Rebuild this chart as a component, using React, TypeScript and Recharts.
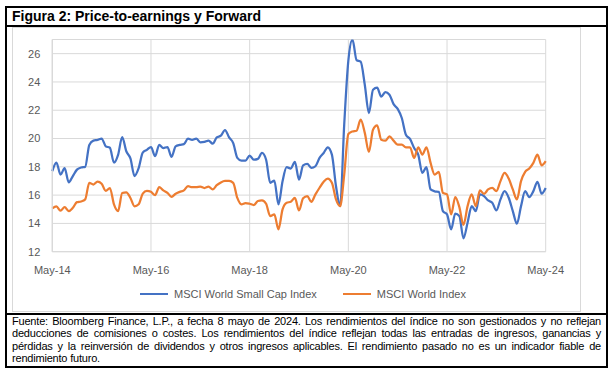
import { LineChart, Line, XAxis, YAxis, CartesianGrid, Legend } from "recharts";

// monthly points, May-14 .. May-24
const smallCap = [
  17.7, 18.3, 17.45, 17.9, 16.9, 17.35, 17.8, 17.95, 18.0, 19.55, 19.85, 19.9,
  20.0, 19.45, 19.35, 18.3, 18.85, 20.1, 19.1, 18.6, 17.35, 17.9, 19.0, 19.2,
  19.4, 18.75, 19.55, 19.33, 19.4, 18.7, 19.45, 19.55, 19.6, 19.99, 19.9, 20.0,
  19.73, 19.76, 19.85, 19.64, 20.08, 20.2, 20.6, 20.08, 19.68, 18.63, 18.44, 18.44,
  18.8, 18.5, 18.56, 18.98, 18.5, 16.87, 17.03, 15.34, 16.98, 17.97, 17.88, 18.35,
  17.1, 18.1, 18.2, 17.92, 18.04, 18.63, 18.98, 19.38, 18.86, 16.63, 15.22, 21.0,
  25.5, 27.0, 25.55, 25.43, 23.8, 21.8, 23.45, 23.6, 22.97, 23.28, 23.1, 22.43,
  22.1, 21.45, 20.27, 19.97, 19.33, 18.86, 17.57, 17.97, 16.4, 16.27, 16.23, 14.87,
  14.64, 13.58, 14.69, 14.52, 12.95, 14.05, 15.22, 14.87, 16.05, 15.93, 15.62, 15.46,
  14.92, 15.7, 16.28, 15.81, 14.87, 13.98, 15.22, 16.28, 15.86, 16.28, 16.94, 16.1,
  16.5,
];

const world = [
  15.06, 15.2, 14.9, 15.15, 14.87, 15.1, 15.5, 15.55, 15.7, 16.87, 16.75, 16.95,
  16.8, 16.3, 16.5, 15.35, 14.87, 16.15, 16.2, 15.8, 15.2, 15.35, 16.1, 16.3,
  16.23, 16.0, 16.56, 16.33, 16.16, 15.88, 16.1, 16.23, 16.33, 16.63, 16.56, 16.56,
  16.6, 16.5, 16.6, 16.4, 16.7, 16.9, 17.0, 17.0, 16.87, 15.8, 15.35, 15.44,
  15.39, 15.3, 15.58, 15.63, 15.39, 14.52, 14.64, 13.58, 14.99, 15.46, 15.53, 15.8,
  14.92, 15.77, 15.93, 15.53, 16.05, 16.52, 16.94, 17.17, 16.87, 15.7, 15.22, 17.45,
  20.32, 20.5, 20.55, 21.33, 20.4, 19.05, 20.62, 20.93, 19.92, 19.85, 20.15, 19.85,
  19.57, 19.57, 19.38, 19.38, 18.63, 19.38, 18.86, 19.38, 18.28, 17.45, 17.65, 16.16,
  16.05, 14.64, 15.86, 15.15, 13.89, 15.22, 16.05, 15.22, 16.33, 16.09, 16.4, 16.52,
  16.28, 16.99, 17.57, 17.17, 16.4, 15.7, 16.99, 17.65, 17.88, 18.28, 18.86, 18.1,
  18.4,
];

const monthNames = ["Jan", "Feb", "Mar", "Apr", "May", "Jun", "Jul", "Aug", "Sep", "Oct", "Nov", "Dec"];
const xTicks = ["May-14", "May-16", "May-18", "May-20", "May-22", "May-24"];
const yTicks = [12, 14, 16, 18, 20, 22, 24, 26];
const seriesOrder = ["MSCI World Small Cap Index", "MSCI World Index"];

const data = smallCap.map((v, i) => {
  const mi = 4 + i;
  const yr = 14 + Math.floor(mi / 12);
  return {
    month: `${monthNames[mi % 12]}-${yr}`,
    smallCap: v,
    world: world[i],
  };
});

const footerLines = [
  "Fuente: Bloomberg Finance, L.P., a fecha 8 mayo de 2024. Los rendimientos del índice no son gestionados y no reflejan",
  "deducciones de comisiones o costes. Los rendimientos del índice reflejan todas las entradas de ingresos, ganancias y",
  "pérdidas y la reinversión de dividendos y otros ingresos aplicables. El rendimiento pasado no es un indicador fiable de",
  "rendimiento futuro.",
];

const FONT = "'Liberation Sans', Arial, sans-serif";
const tickStyle = { fill: "#595959", fontSize: 11, fontFamily: FONT };

const renderLegend = (props: any) => {
  const items = [...(props.payload || [])].sort(
    (a: any, b: any) => seriesOrder.indexOf(a.value) - seriesOrder.indexOf(b.value)
  );
  return (
    <div style={{ display: "flex", justifyContent: "flex-start", paddingLeft: 140, fontFamily: FONT, fontSize: 11, color: "#595959" }}>
      {items.map((p: any, i: number) => (
        <div key={p.value} style={{ display: "flex", alignItems: "center", marginRight: i === 0 ? 26 : 0 }}>
          <span style={{ display: "inline-block", width: 28, height: 2, background: p.color, marginRight: 6 }} />
          <span>{p.value}</span>
        </div>
      ))}
    </div>
  );
};

export default function App() {
  return (
    <div style={{ position: "fixed", left: 0, top: 0, width: 611, height: 369, background: "#fff", fontFamily: FONT }}>
      {/* outer frame */}
      <div style={{ position: "absolute", left: 5, top: 6, width: 599, height: 358, border: "2px solid #000" }} />
      <div style={{ position: "absolute", left: 5, top: 25, width: 603, height: 2, background: "#000" }} />
      <div style={{ position: "absolute", left: 5, top: 313, width: 603, height: 2, background: "#000" }} />
      {/* excel chart border */}
      <div style={{ position: "absolute", left: 12, top: 27, width: 567, height: 283, border: "1px solid #d9d9d9" }} />

      <div style={{ position: "absolute", left: 12, top: 8, fontSize: 14, fontWeight: "bold", color: "#000", lineHeight: "17px" }}>
        Figura 2: Price-to-earnings y Forward
      </div>

      <div style={{ position: "absolute", left: 0, top: 0 }}>
        <LineChart width={611} height={369} data={data} margin={{ top: 39.5, right: 65.3, bottom: 87.3, left: 12.3 }}>
          <CartesianGrid stroke="#d9d9d9" strokeWidth={1} />
          <XAxis
            dataKey="month"
            ticks={xTicks}
            interval={0}
            stroke="#d9d9d9"
            tickLine={false}
            tick={tickStyle}
            tickMargin={8}
            height={30}
          />
          <YAxis
            domain={[12, 27]}
            ticks={yTicks}
            stroke="#d9d9d9"
            tickLine={false}
            tick={tickStyle}
            tickMargin={6}
            width={40}
            allowDataOverflow
          />
          <Legend verticalAlign="middle" layout="horizontal" content={renderLegend} wrapperStyle={{ top: 288, left: 0, width: 611 }} />
          <Line
            type="monotone"
            dataKey="smallCap"
            name="MSCI World Small Cap Index"
            stroke="#4472C4"
            strokeWidth={2.25}
            dot={false}
            isAnimationActive={false}
          />
          <Line
            type="monotone"
            dataKey="world"
            name="MSCI World Index"
            stroke="#ED7D31"
            strokeWidth={2.25}
            dot={false}
            isAnimationActive={false}
          />
        </LineChart>
      </div>

      <div style={{ position: "absolute", left: 12, top: 315, width: 589, fontSize: 11, lineHeight: "12.3px", color: "#000", letterSpacing: -0.2 }}>
        {footerLines.map((l, i) => (
          <div
            key={i}
            style={{ whiteSpace: "nowrap", textAlign: i < footerLines.length - 1 ? "justify" : "left", textAlignLast: i < footerLines.length - 1 ? "justify" : "left" }}
          >
            {l}
          </div>
        ))}
      </div>
    </div>
  );
}
